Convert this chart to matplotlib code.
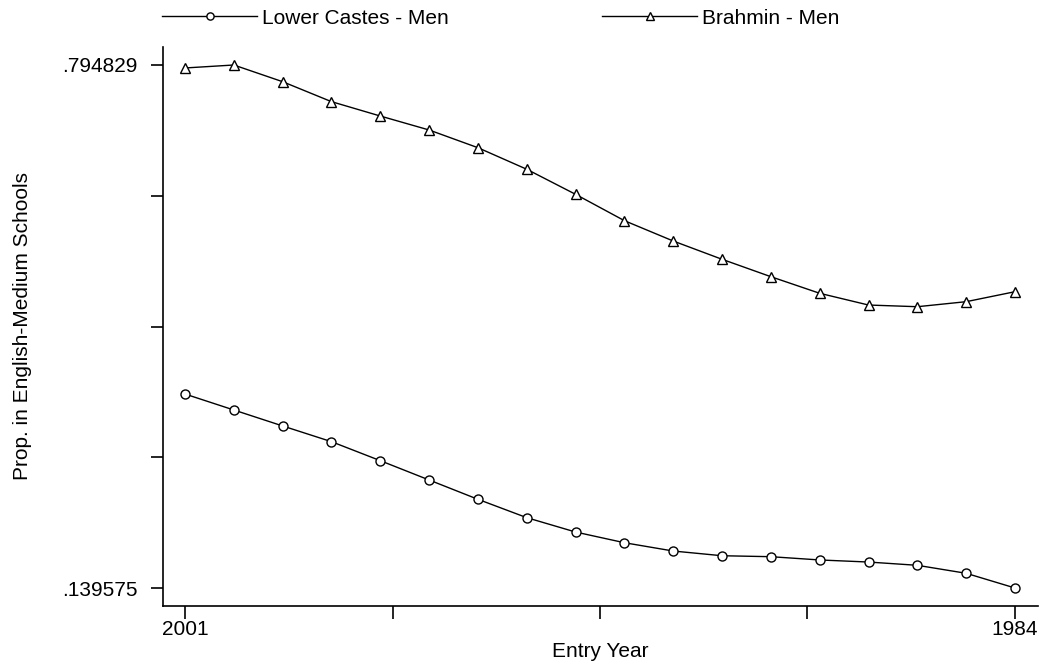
import numpy as np
import matplotlib
matplotlib.use("Agg")
import matplotlib.pyplot as plt

plt.rcParams["font.family"] = ["Liberation Sans", "DejaVu Sans"]

years = list(range(2001, 1983, -1))

lower_castes = [0.3826, 0.3626, 0.3426, 0.3229, 0.2991, 0.2749, 0.2507, 0.2277, 0.2097,
                0.1963, 0.1859, 0.1800, 0.1788, 0.1747, 0.1721, 0.1680, 0.1580, 0.139575]

brahmin = [0.7911, 0.794829, 0.7739, 0.7489, 0.7309, 0.7134, 0.6912, 0.6642, 0.6328,
           0.5998, 0.5743, 0.5514, 0.5296, 0.5088, 0.4941, 0.4920, 0.4983, 0.5108]

series_labels = ["Lower Castes - Men", "Brahmin - Men"]
y_tick_labels = [".139575", "", "", "", ".794829"]
x_tick_labels = ["2001", "", "", "", "1984"]

fs = 15

fig = plt.figure(figsize=(10.46, 6.67), dpi=100)
ax = fig.add_axes([163 / 1046, 61 / 667, 875 / 1046, 559 / 667])

ax.plot(years, lower_castes, color="black", lw=1.0, marker="o", ms=6.5,
        mfc="white", mec="black", mew=1.0, label=series_labels[0])
ax.plot(years, brahmin, color="black", lw=1.0, marker="^", ms=7.5,
        mfc="white", mec="black", mew=1.0, label=series_labels[1])

ymin, ymax = min(lower_castes), max(brahmin)
ax.set_yticks(np.linspace(ymin, ymax, 5))
ax.set_yticklabels(y_tick_labels)
ax.set_xticks(np.linspace(2001, 1984, 5))
ax.set_xticklabels(x_tick_labels)

pad_y = (ymax - ymin) * 18 / 523
ax.set_ylim(ymin - pad_y, ymax + pad_y)
ax.set_xlim(2001 + 22 / 48.82, 1984 - 23 / 48.82)

for s in ["top", "right"]:
    ax.spines[s].set_visible(False)
for s in ["left", "bottom"]:
    ax.spines[s].set_linewidth(1.2)
ax.tick_params(length=9, width=1.2, labelsize=fs)
ax.tick_params(axis="y", pad=9)
ax.tick_params(axis="x", pad=1)

ax.set_xlabel("Entry Year", fontsize=fs, labelpad=2)
ax.set_ylabel("Prop. in English-Medium Schools", fontsize=fs, labelpad=22)

fig.legend(loc="center left", bbox_to_anchor=(162 / 1046, 1 - 18 / 667),
           ncol=2, frameon=False, borderpad=0, borderaxespad=0,
           handlelength=4.56, handletextpad=0.25, columnspacing=7.35,
           fontsize=fs, markerscale=0.8)

fig.savefig("out.png", dpi=100)
